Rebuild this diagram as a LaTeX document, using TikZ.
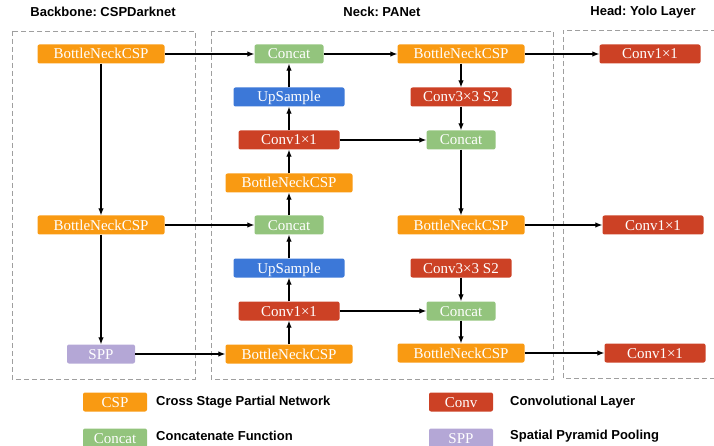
\documentclass[tikz,border=0pt]{standalone}
\usepackage{fontspec}
\setmainfont{Liberation Serif}
\newfontfamily\headfont{Liberation Sans}
\usetikzlibrary{arrows.meta}
\frenchspacing

\definecolor{cspcol}{HTML}{F99A12}
\definecolor{catcol}{HTML}{93C47D}
\definecolor{upcol}{HTML}{3C78D8}
\definecolor{convcol}{HTML}{CC4125}
\definecolor{sppcol}{HTML}{B4A7D6}

\tikzset{
    block/.style={rectangle, rounded corners=2pt, inner sep=0pt, minimum height=19pt, text=white, font=\fontsize{15}{15}\selectfont, text height=10pt, text depth=0pt},
    csp/.style={block, fill=cspcol, minimum width=127pt},
    concat/.style={block, fill=catcol, minimum width=69pt},
    upsample/.style={block, fill=upcol, minimum width=111pt},
    conv/.style={block, fill=convcol, minimum width=101pt},
    spp/.style={block, fill=sppcol, minimum width=68pt},
    legbox/.style={minimum width=64pt},
    group/.style={draw=gray!75, line width=0.9pt, dash pattern=on 5pt off 3pt},
    title/.style={font=\headfont\bfseries\fontsize{13}{13}\selectfont},
    legtext/.style={font=\headfont\bfseries\fontsize{13}{13}\selectfont, anchor=west, inner sep=0pt},
    link/.style={->, line width=1.1pt}
}

\begin{document}
\begin{tikzpicture}[x=1pt, y=-1pt, >={Latex[length=7pt,width=5.5pt]}]
        \useasboundingbox (0,0) rectangle (714,446);

        % Titles
        \node[title] (backbonetitle) at (103,12) {Backbone: CSPDarknet};
        \node[title] (necktitle) at (382,12) {Neck: PANet};
        \node[title] (headtitle) at (643,12) {Head: Yolo Layer};

        % Dashed groups
        \draw[group] (12,31) rectangle (195,379);
        \draw[group] (211,31) rectangle (553,379);
        \draw[group] (716,30) -- (563,30) -- (563,378) -- (716,378);

        % Backbone
        \node[csp] (bbcsp1) at (101,54) {BottleNeckCSP};
        \node[csp] (bbcsp2) at (101,225) {BottleNeckCSP};
        \node[spp] (bbspp) at (101,354) {SPP};

        % Neck, upward path
        \node[concat] (upcat1) at (289,54) {Concat};
        \node[upsample] (upsmp1) at (289,97) {UpSample};
        \node[conv] (upconv1) at (289,140) {Conv1×1};
        \node[csp] (upcsp1) at (289,183) {BottleNeckCSP};
        \node[concat] (upcat2) at (289,225) {Concat};
        \node[upsample] (upsmp2) at (289,268) {UpSample};
        \node[conv] (upconv2) at (289,311) {Conv1×1};
        \node[csp] (upcsp2) at (289,354) {BottleNeckCSP};

        % Neck, downward path
        \node[csp] (dncsp1) at (461,54) {BottleNeckCSP};
        \node[conv] (dnconv1) at (461,97) {Conv3×3 S2};
        \node[concat] (dncat1) at (461,140) {Concat};
        \node[csp] (dncsp2) at (461,225) {BottleNeckCSP};
        \node[conv] (dnconv2) at (461,268) {Conv3×3 S2};
        \node[concat] (dncat2) at (461,311) {Concat};
        \node[csp] (dncsp3) at (461,353) {BottleNeckCSP};

        % Head
        \node[conv] (head1) at (650,54) {Conv1×1};
        \node[conv] (head2) at (653,225) {Conv1×1};
        \node[conv] (head3) at (655,353) {Conv1×1};

        % Legend
        \node[csp, legbox] (legcsp) at (115,402) {CSP};
        \node[legtext] (legcsptext) at (156,402) {Cross Stage Partial Network};
        \node[concat, legbox] (legcat) at (115,438) {Concat};
        \node[legtext] (legcattext) at (156,436) {Concatenate Function};
        \node[conv, legbox] (legconv) at (461,402) {Conv};
        \node[legtext] (legconvtext) at (510,402) {Convolutional Layer};
        \node[spp, legbox] (legspp) at (461,438) {SPP};
        \node[legtext] (legspptext) at (510,436) {Spatial Pyramid Pooling};

        % Arrows
        \draw[link] (bbcsp1.east) -- (upcat1.west);
        \draw[link] (bbcsp1.south) -- (bbcsp2.north);
        \draw[link] (bbcsp2.east) -- (upcat2.west);
        \draw[link] (bbcsp2.south) -- (bbspp.north);
        \draw[link] (bbspp.east) -- (upcsp2.west);
        \draw[link] (upcsp2.north) -- (upconv2.south);
        \draw[link] (upconv2.north) -- (upsmp2.south);
        \draw[link] (upsmp2.north) -- (upcat2.south);
        \draw[link] (upcat2.north) -- (upcsp1.south);
        \draw[link] (upcsp1.north) -- (upconv1.south);
        \draw[link] (upconv1.north) -- (upsmp1.south);
        \draw[link] (upsmp1.north) -- (upcat1.south);
        \draw[link] (upcat1.east) -- (dncsp1.west);
        \draw[link] (dncsp1.south) -- (dnconv1.north);
        \draw[link] (dnconv1.south) -- (dncat1.north);
        \draw[link] (upconv1.east) -- (dncat1.west);
        \draw[link] (dncat1.south) -- (dncsp2.north);
        \draw[link] (dnconv2.south) -- (dncat2.north);
        \draw[link] (upconv2.east) -- (dncat2.west);
        \draw[link] (dncat2.south) -- (dncsp3.north);
        \draw[link] (dncsp1.east) -- (head1.west);
        \draw[link] (dncsp2.east) -- (head2.west);
        \draw[link] (dncsp3.east) -- (head3.west);
    \end{tikzpicture}
\end{document}
